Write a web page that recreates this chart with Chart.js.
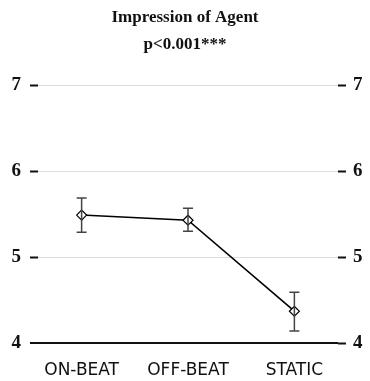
<!DOCTYPE html>
<html>
<head>
<meta charset="utf-8">
<script src="https://cdn.jsdelivr.net/npm/chart.js@4"></script>
<style>
  html, body { margin: 0; padding: 0; background: #fff; }
  #wrap { width: 370px; height: 381px; }
</style>
</head>
<body>
<div id="wrap"><canvas id="impChart"></canvas></div>
<script>
const categories = ['ON-BEAT', 'OFF-BEAT', 'STATIC']
const means = [5.49, 5.43, 4.37]
const errHigh = [5.69, 5.57, 4.59]
const errLow = [5.29, 5.30, 4.14]
const yTicks = [4, 5, 6, 7]

const serif = "'Liberation Serif', 'DejaVu Serif', serif"

// whiskers drawn through the chart's own scales
const errorBars = {
    id: 'errorBars',
    afterDatasetsDraw(chart) {
        const { ctx, scales: { x, y } } = chart
        ctx.save()
        ctx.strokeStyle = '#444'
        ctx.lineWidth = 1.5
        means.forEach((m, i) => {
            const px = x.getPixelForValue(i)
            const top = y.getPixelForValue(errHigh[i])
            const bot = y.getPixelForValue(errLow[i])
            ctx.beginPath()
            ctx.moveTo(px, top); ctx.lineTo(px, bot)
            ctx.moveTo(px - 5, top); ctx.lineTo(px + 5, top)
            ctx.moveTo(px - 5, bot); ctx.lineTo(px + 5, bot)
            ctx.stroke()
        })
        ctx.restore()
    }
}

const gridColor = c => c.tick && c.tick.value === 4 ? '#111' : '#dddddd'
const gridWidth = c => c.tick && c.tick.value === 4 ? 2 : 1

new Chart(document.getElementById('impChart'), {
    type: 'line',
    data: {
        datasets: [{
            data: means.map((m, i) => ({ x: i, y: m })),
            borderColor: '#000',
            borderWidth: 1.6,
            pointStyle: 'rectRot',
            pointRadius: 5,
            pointBackgroundColor: '#fff',
            pointBorderColor: '#000',
            pointBorderWidth: 1.2,
            tension: 0
        }]
    },
    options: {
        responsive: true,
        maintainAspectRatio: false,
        animation: false,
        layout: { padding: { top: 2, left: 0, right: 0, bottom: 0 } },
        plugins: {
            legend: { display: false },
            tooltip: { enabled: false },
            title: {
                display: true,
                text: ['Impression of Agent', 'p<0.001***'],
                color: '#111',
                font: { family: serif, size: 17, weight: 'bold', lineHeight: 1.6 },
                padding: { top: 2, bottom: 27 }
            }
        },
        scales: {
            x: {
                type: 'linear',
                min: -0.41,
                max: 2.41,
                afterBuildTicks: s => { s.ticks = categories.map((c, i) => ({ value: i })) },
                afterFit: s => { s.height = 38 },
                grid: { display: false },
                border: { display: false },
                ticks: {
                    callback: v => categories[v],
                    color: '#111',
                    padding: 9,
                    maxRotation: 0,
                    font: { family: "'DejaVu Sans', sans-serif", size: 17 }
                }
            },
            y: {
                min: 4,
                max: 7,
                afterBuildTicks: s => { s.ticks = yTicks.map(v => ({ value: v })) },
                afterFit: s => { s.width = 38 },
                border: { display: false },
                grid: { color: gridColor, lineWidth: gridWidth, tickColor: '#111', tickWidth: 2, tickLength: 8 },
                ticks: { color: '#111', padding: 9, font: { family: serif, size: 19, weight: 'bold' } }
            },
            y2: {
                position: 'right',
                min: 4,
                max: 7,
                afterBuildTicks: s => { s.ticks = yTicks.map(v => ({ value: v })) },
                afterFit: s => { s.width = 32 },
                border: { display: false },
                grid: { drawOnChartArea: false, tickColor: '#111', tickWidth: 2, tickLength: 8 },
                ticks: { color: '#111', padding: 7, font: { family: serif, size: 19, weight: 'bold' } }
            }
        }
    },
    plugins: [errorBars]
})
</script>
</body>
</html>
